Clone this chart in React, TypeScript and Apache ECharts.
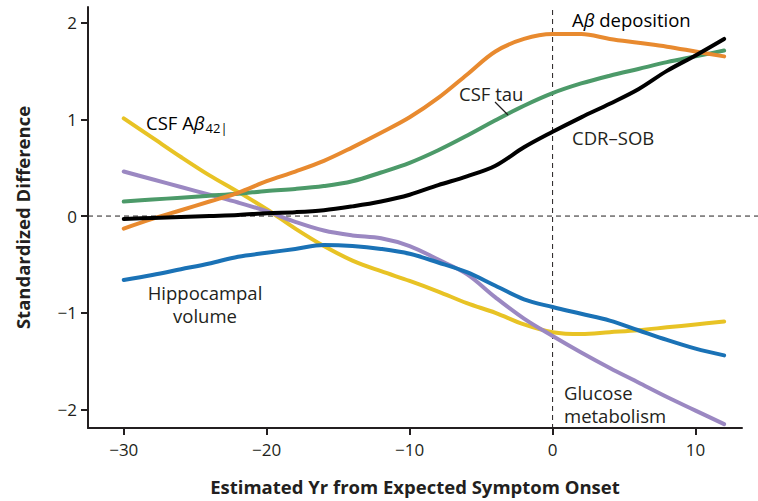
import React, { useEffect, useRef } from "react";
import * as echarts from "echarts";

const years = [-30, -28, -26, -24, -22, -20, -18, -16, -14, -12, -10, -8, -6, -4, -2, 0, 2, 4, 6, 8, 10, 12];

const cdrSob = [-0.03, -0.02, -0.01, 0.0, 0.01, 0.03, 0.04, 0.06, 0.1, 0.15, 0.22, 0.32, 0.41, 0.52, 0.71, 0.87, 1.02, 1.16, 1.31, 1.5, 1.66, 1.83];
const abDeposition = [-0.13, -0.03, 0.06, 0.15, 0.24, 0.36, 0.46, 0.57, 0.71, 0.86, 1.02, 1.22, 1.46, 1.7, 1.83, 1.88, 1.88, 1.83, 1.79, 1.75, 1.7, 1.65];
const csfTau = [0.15, 0.17, 0.19, 0.21, 0.23, 0.26, 0.28, 0.31, 0.36, 0.45, 0.55, 0.68, 0.83, 0.99, 1.14, 1.27, 1.37, 1.45, 1.52, 1.59, 1.65, 1.71];
const csfAb42 = [1.01, 0.81, 0.61, 0.42, 0.25, 0.07, -0.13, -0.31, -0.46, -0.57, -0.67, -0.78, -0.9, -1.0, -1.12, -1.2, -1.22, -1.2, -1.18, -1.15, -1.12, -1.09];
const glucose = [0.46, 0.38, 0.3, 0.22, 0.14, 0.05, -0.06, -0.15, -0.2, -0.23, -0.31, -0.45, -0.6, -0.84, -1.06, -1.24, -1.41, -1.57, -1.72, -1.87, -2.01, -2.15];
const hippocampal = [-0.66, -0.61, -0.55, -0.49, -0.42, -0.38, -0.34, -0.3, -0.31, -0.34, -0.39, -0.48, -0.58, -0.72, -0.86, -0.94, -1.01, -1.08, -1.18, -1.28, -1.37, -1.44];

const xTicks = [-30, -20, -10, 0, 10];
const yTicks = [-2, -1, 0, 1, 2];

const FONT = "'Open Sans', sans-serif";
const TXT = "#231f20";
const LBL = 18.5;

export default function App() {
  const ref = useRef<HTMLDivElement>(null);
  useEffect(() => {
    document.body.style.margin = "0";
    if (!ref.current) return;
    const chart = echarts.init(ref.current, undefined, { renderer: "svg" });
    const mk = (name: string, vals: number[], color: string) => ({
      type: "line",
      name,
      data: years.map((x, i) => [x, vals[i]]),
      smooth: 0.35,
      showSymbol: false,
      lineStyle: { width: 4, color, cap: "round" },
      itemStyle: { color },
      z: 3,
    });
    const minus = (v: number) => String(v).replace("-", "\u2212");
    chart.setOption({
      animation: false,
      grid: { left: 88, right: 16, top: 7, bottom: 71 },
      xAxis: {
        type: "value",
        min: -32.5,
        max: 13.25,
        axisLine: { show: true, onZero: false, lineStyle: { color: TXT, width: 2 } },
        axisTick: { show: true, length: 7, customValues: xTicks, lineStyle: { color: TXT, width: 2 } },
        axisLabel: { customValues: xTicks, formatter: minus, fontSize: 17, margin: 13, color: TXT, fontFamily: FONT },
        splitLine: { show: false },
        name: "Estimated Yr from Expected Symptom Onset",
        nameLocation: "middle",
        nameGap: 49,
        nameTextStyle: { fontSize: 18.5, fontWeight: "bold", color: TXT, fontFamily: FONT, verticalAlign: "top" },
      },
      yAxis: {
        type: "value",
        min: -2.19,
        max: 2.16,
        axisLine: { show: true, onZero: false, lineStyle: { color: TXT, width: 2 } },
        axisTick: { show: true, length: 7, customValues: yTicks, lineStyle: { color: TXT, width: 2 } },
        axisLabel: { customValues: yTicks, formatter: minus, fontSize: 17, margin: 11, color: TXT, fontFamily: FONT },
        splitLine: { show: false },
        name: "Standardized Difference",
        nameLocation: "middle",
        nameGap: 56,
        nameTextStyle: { fontSize: 18.5, fontWeight: "bold", color: TXT, fontFamily: FONT },
      },
      series: [
        mk("CSF A\u03b242", csfAb42, "#e8c325"),
        mk("Glucose metabolism", glucose, "#9b88c2"),
        mk("Hippocampal volume", hippocampal, "#1a72b6"),
        mk("CSF tau", csfTau, "#4c9a69"),
        mk("A\u03b2 deposition", abDeposition, "#e88a2f"),
        mk("CDR\u2013SOB", cdrSob, "#000000"),
      ],
    });

    const p0 = chart.convertToPixel({ xAxisIndex: 0, yAxisIndex: 0 }, [-32.5, 0]) as number[];
    const pTop = chart.convertToPixel({ xAxisIndex: 0, yAxisIndex: 0 }, [0, 2.16]) as number[];
    const pBot = chart.convertToPixel({ xAxisIndex: 0, yAxisIndex: 0 }, [0, -2.19]) as number[];
    const dash = { stroke: TXT, lineWidth: 1, lineDash: [5, 4] };
    const textStyle = (text: string, x: number, y: number, align = "left", lh = 23) => ({
      type: "text",
      x,
      y,
      z: 10,
      style: { text, fill: TXT, font: `${LBL}px ${FONT}`, textAlign: align, textVerticalAlign: "middle", lineHeight: lh },
    });
    const base = { fontSize: LBL, fontFamily: FONT, color: TXT, lineHeight: 24, verticalAlign: "middle" };
    chart.setOption({
      graphic: [
        { type: "line", z: 1, shape: { x1: p0[0], y1: p0[1], x2: 758, y2: p0[1] }, style: dash },
        { type: "line", z: 1, shape: { x1: pTop[0], y1: pTop[1] + 3, x2: pBot[0], y2: pBot[1] }, style: dash },
        {
          type: "text",
          x: 572,
          y: 19,
          z: 10,
          style: {
            text: "{n|A}{b|\u03b2}{n| deposition}",
            textVerticalAlign: "middle",
            rich: { n: base, b: { ...base, fontStyle: "italic" } },
          },
        },
        textStyle("CSF tau", 459, 93),
        { type: "line", z: 10, shape: { x1: 495, y1: 102, x2: 508, y2: 115 }, style: { stroke: TXT, lineWidth: 1.3 } },
        textStyle("CDR\u2013SOB", 572, 137),
        textStyle("Hippocampal\nvolume", 205, 303.5, "center", 23),
        textStyle("Glucose\nmetabolism", 564, 403.5, "left", 23),
        {
          type: "text",
          x: 146,
          y: 122,
          z: 10,
          style: {
            text: "{n|CSF A}{b|\u03b2}{s|42}{bar||}",
            textVerticalAlign: "middle",
            rich: {
              n: base,
              b: { ...base, fontStyle: "italic" },
              s: { ...base, fontSize: 13, verticalAlign: "bottom", padding: [9, 0, 0, 1] },
              bar: { ...base, fontSize: 13, verticalAlign: "bottom", padding: [9, 0, 0, 0] },
            },
          },
        },
      ],
    });
    return () => chart.dispose();
  }, []);
  return <div ref={ref} style={{ width: 758, height: 501 }} />;
}
